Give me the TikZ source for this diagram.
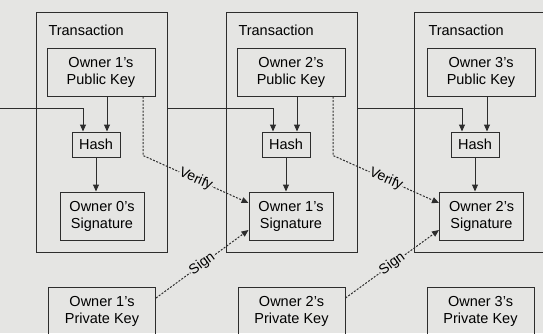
\documentclass[tikz,border=0pt]{standalone}
\usepackage{fontspec}
\setmainfont{Liberation Sans}
\usetikzlibrary{arrows.meta}
\definecolor{paper}{RGB}{229,229,227}
\definecolor{ink}{RGB}{45,45,45}

\begin{document}
\begin{tikzpicture}[x=1pt, y=-1pt,
			every node/.style={draw=ink, line width=1pt, align=center, inner sep=0pt,
				font=\fontsize{14.5}{17}\selectfont},
			txbox/.style={minimum width=131pt, minimum height=240pt},
			keybox/.style={minimum width=108pt, minimum height=48pt},
			hashbox/.style={minimum width=48pt, minimum height=25pt},
			sigbox/.style={minimum width=84pt, minimum height=48pt},
			txtitle/.style={draw=none, anchor=west},
			lbl/.style={draw=none, fill=paper, sloped, inner sep=0.5pt,
				font=\fontsize{14}{16}\selectfont},
			arr/.style={draw=ink, line width=1pt, -{Triangle[length=7pt,width=6pt]}},
			sigarr/.style={arr, dash pattern=on 2pt off 1.5pt}]

		\fill[paper] (0,0) rectangle (543,333);
		\useasboundingbox (0,0) rectangle (543,333);
		\clip (0,0) rectangle (543,333);

		% transactions
		\node[txbox] (tx1) at (101.5,132) {};
		\node[txbox] (tx2) at (291.5,132) {};
		\node[txbox] (tx3) at (479.5,132.5) {};
		\node[txtitle] (t1) at (48,30) {Transaction};
		\node[txtitle] (t2) at (238,30) {Transaction};
		\node[txtitle] (t3) at (428,30) {Transaction};

		\node[keybox] (pub1) at (101,72) {Owner 1's\\Public Key};
		\node[keybox] (pub2) at (291,72) {Owner 2's\\Public Key};
		\node[keybox] (pub3) at (481,72) {Owner 3's\\Public Key};

		\node[hashbox] (hash1) at (96,144.5) {Hash};
		\node[hashbox] (hash2) at (286,144.5) {Hash};
		\node[hashbox] (hash3) at (475,144.5) {Hash};

		\node[sigbox] (sig0) at (102,216) {Owner 0's\\Signature};
		\node[sigbox] (sig1) at (291,216) {Owner 1's\\Signature};
		\node[sigbox] (sig2) at (481.5,216) {Owner 2's\\Signature};

		\node[keybox, minimum width=107pt] (priv1) at (102,311) {Owner 1's\\Private Key};
		\node[keybox, minimum width=107pt] (priv2) at (291.5,311) {Owner 2's\\Private Key};
		\node[keybox, minimum width=107pt] (priv3) at (480.5,311) {Owner 3's\\Private Key};

		% chain of hashes
		\coordinate (in) at (0,108);
		\draw[arr] (in) -| ([xshift=-13pt]hash1.north);
		\draw[arr] (tx1.east |- in) -| ([xshift=-13pt]hash2.north);
		\draw[arr] (tx2.east |- in) -| ([xshift=-13pt]hash3.north);

		\draw[arr] ([xshift=11pt]hash1.north |- pub1.south) -- ([xshift=11pt]hash1.north);
		\draw[arr] ([xshift=11pt]hash2.north |- pub2.south) -- ([xshift=11pt]hash2.north);
		\draw[arr] ([xshift=12pt]hash3.north |- pub3.south) -- ([xshift=12pt]hash3.north);

		\draw[arr] (hash1.south) -- (hash1.south |- sig0.north);
		\draw[arr] (hash2.south) -- (hash2.south |- sig1.north);
		\draw[arr] (hash3.south) -- (hash3.south |- sig2.north);

		% verify and sign
		\draw[sigarr] ([xshift=42pt]pub1.south) -- ++(0,59) -- node[lbl] {Verify} ([yshift=13pt]sig1.west);
		\draw[sigarr] ([xshift=42pt]pub2.south) -- ++(0,59) -- node[lbl] {Verify} ([yshift=13pt]sig2.west);
		\draw[sigarr] ([yshift=13pt]priv1.east) -- node[lbl] {Sign} ([yshift=-14pt]sig1.west);
		\draw[sigarr] ([yshift=13pt]priv2.east) -- node[lbl] {Sign} ([yshift=-14pt]sig2.west);
	\end{tikzpicture}
\end{document}
